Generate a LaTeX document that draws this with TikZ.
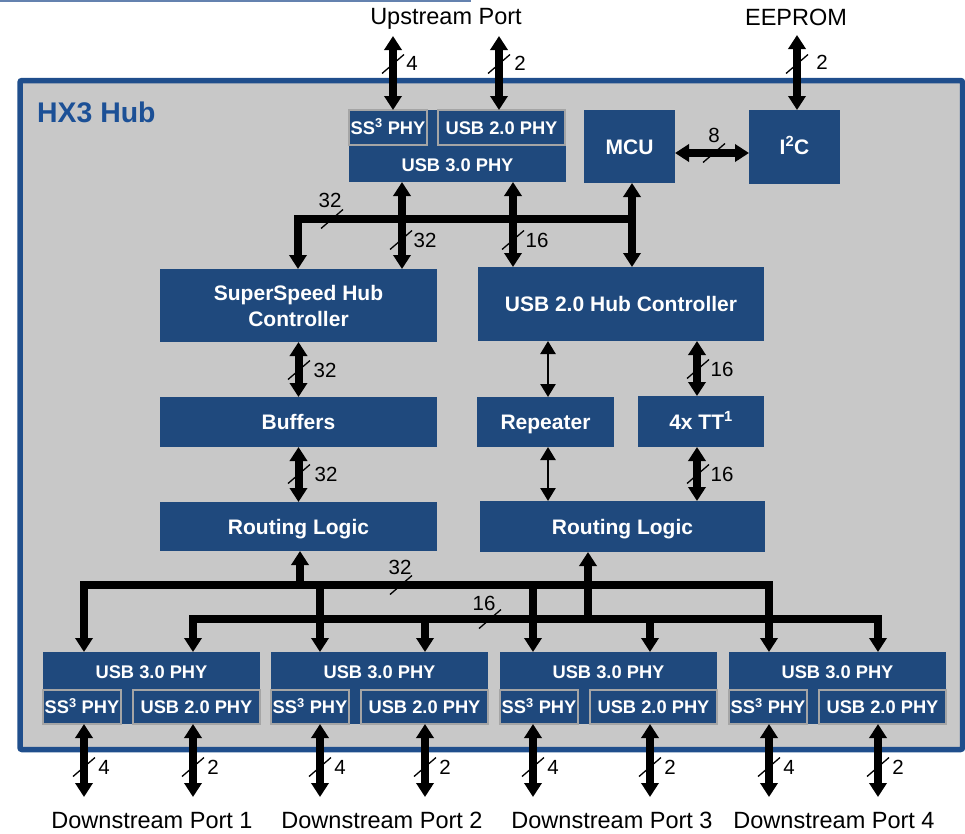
\documentclass[tikz,border=0pt]{standalone}
\usepackage{fontspec}
\setmainfont{Liberation Sans}
\usetikzlibrary{arrows.meta,calc}
\definecolor{boxblue}{HTML}{1F497D}
\definecolor{hubblue}{RGB}{31,78,140}
\definecolor{hubtext}{RGB}{28,80,150}
\definecolor{bggrey}{RGB}{200,200,200}
\definecolor{subgrey}{RGB}{165,165,165}
\definecolor{topline}{RGB}{100,130,175}
\newcommand\mkbox[7][]{\node[blk,#1,minimum width={(#5)-(#3)},minimum height={(#6)-(#4)}] (#2) at ({((#3)+(#5))/2},{((#4)+(#6))/2}) {#7};}
\newcommand\slsh[2]{\draw[slashmark] ($(#1,#2)+(-11,9.5)$) -- ++(22,-19);}
\begin{document}
\begin{tikzpicture}[x=1pt,y=-1pt,
  blk/.style={fill=boxblue,draw=none,text=white,inner sep=0pt,outer sep=0pt,align=center,
    font=\fontsize{21}{26}\selectfont\bfseries,text height=15pt,text depth=0pt},
  phy/.style={font=\fontsize{18.3}{22}\selectfont\bfseries,text height=13.1pt},
  sub/.style={phy,draw=subgrey,line width=1.4pt},
  plain/.style={inner sep=0pt,outer sep=0pt,text height=16.8pt,text depth=0pt,font=\fontsize{23.5}{28}\selectfont},
  num/.style={inner sep=0pt,outer sep=0pt,text height=14.5pt,text depth=0pt,font=\fontsize{20.5}{24}\selectfont},
  tipk/.tip={Triangle[width=17pt,length=14pt]},
  tipt/.tip={Triangle[width=15pt,length=13pt]},
  bus/.style={line width=8pt,black,line join=miter},
  dbl/.style={bus,tipk-tipk},
  sgl/.style={bus,-tipk},
  thinarr/.style={line width=2.6pt,black,tipt-tipt},
  slashmark/.style={line width=1.3pt,black},
]
\useasboundingbox (0,0) rectangle (965,833);
% top thin line
\draw[topline,line width=1.5pt] (0,0.8) -- (471,0.8);
% outer hub box
\draw[hubblue,line width=5.5pt,fill=bggrey,rounded corners=2pt] (20,80.5) rectangle (962.5,749.5);
\node[anchor=west,inner sep=0pt,text height=20pt,text depth=0pt,text=hubtext,font=\fontsize{28.4}{32}\selectfont\bfseries] (title) at (37,112) {HX3 Hub};

% outside labels
\node[plain] (up) at (446,16) {Upstream Port};
\node[plain] (ee) at (796,17) {EEPROM};

% upstream PHY
\mkbox{usPHY3}{349}{110}{566}{182}{}
\node[blk,phy,fill=none] (usPHY3l) at ($(usPHY3.south)+(0,-17)$) {USB 3.0 PHY};
\mkbox[sub]{usSS}{349}{110}{427}{145}{SS\textsuperscript{3} PHY}
\mkbox[sub]{usU2}{438}{110}{565}{145}{USB 2.0 PHY}
\mkbox{mcu}{584}{110}{675}{183}{MCU}
\mkbox{i2c}{749}{110}{840}{184}{I\textsuperscript{2}C}

% middle blocks
\mkbox[text height=41pt]{ssHub}{160}{269}{437}{342}{SuperSpeed Hub\\Controller}
\mkbox{u2Hub}{478}{267}{764}{341}{USB 2.0 Hub Controller}
\mkbox{buf}{160}{397}{437}{447}{Buffers}
\mkbox{rlL}{160}{502}{437}{551}{Routing Logic}
\mkbox{rep}{477}{397}{614}{447}{Repeater}
\mkbox{tt}{638}{396}{764}{447}{4x TT\textsuperscript{1}}
\mkbox{rlR}{480}{501}{765}{552}{Routing Logic}

% downstream PHYs
\foreach \i/\L in {1/43,2/271,3/500,4/729}{
  \mkbox{ds\i}{\L}{652}{\L+217}{724}{}
  \node[blk,phy,fill=none] (ds\i l) at ($(ds\i.north)+(0,20)$) {USB 3.0 PHY};
  \mkbox[sub]{ss\i}{\L}{690}{\L+78}{724}{SS\textsuperscript{3} PHY}
  \mkbox[sub]{dtwo\i}{\L+90}{690}{\L+217}{724}{USB 2.0 PHY}
}

% coordinates
\coordinate (upA) at (393,36);
\coordinate (upB) at (499,36);
\coordinate (eeA) at (797,35);
\coordinate (m153) at (0,153);
\coordinate (tb1) at (298,219);
\coordinate (tb2) at (632,219);
\coordinate (c402) at (402,0);
\coordinate (c513) at (513,0);
\coordinate (c548) at (548,0);
\coordinate (c697) at (697,0);
\coordinate (b32L) at (84,585);
\coordinate (b32R) at (769,585);
\coordinate (b16L) at (193,619);
\coordinate (b16R) at (878,619);
\coordinate (c300) at (300,0);
\coordinate (c588) at (588,0);
\coordinate (c320) at (320,0);
\coordinate (c533) at (533,0);
\coordinate (c425) at (425,0);
\coordinate (c650) at (650,0);
\coordinate (dS1) at (84,797);
\coordinate (dS2) at (320,797);
\coordinate (dS3) at (533,797);
\coordinate (dS4) at (769,797);
\coordinate (dU1) at (193,797);
\coordinate (dU2) at (425,797);
\coordinate (dU3) at (650,797);
\coordinate (dU4) at (878,797);

% upstream arrows
\draw[dbl] (usSS.north -| upA) -- (upA);
\draw[dbl] (usU2.north -| upB) -- (upB);
\draw[dbl] (i2c.north -| eeA) -- (eeA);
\draw[dbl] (mcu.east |- m153) -- (i2c.west |- m153);
\slsh{393}{64} \node[num] at (412,63) {4};
\slsh{499}{64} \node[num] at (520,63) {2};
\slsh{797}{64} \node[num] at (822,62) {2};
\slsh{714}{153} \node[num] at (714,135) {8};

% top bus
\draw[sgl] (tb2) -- (tb1) -- (ssHub.north -| tb1);
\draw[dbl] (mcu.south -| tb2) -- (u2Hub.north -| tb2);
\draw[dbl] (usPHY3.south -| c402) -- (ssHub.north -| c402);
\draw[dbl] (usPHY3.south -| c513) -- (u2Hub.north -| c513);
\slsh{332}{219} \node[num] at (330,200) {32};
\slsh{401}{240} \node[num] at (425,240) {32};
\slsh{513}{240} \node[num] at (537,240) {16};

% middle arrows
\draw[dbl] (ssHub) -- (buf);
\draw[dbl] (buf) -- (rlL);
\slsh{299}{370} \node[num] at (325,370) {32};
\slsh{299}{474} \node[num] at (326,474) {32};
\draw[thinarr] (u2Hub.south -| c548) -- (rep.north -| c548);
\draw[thinarr] (rep.south -| c548) -- (rlR.north -| c548);
\draw[dbl] (u2Hub.south -| c697) -- (tt.north -| c697);
\draw[dbl] (tt.south -| c697) -- (rlR.north -| c697);
\slsh{698}{369} \node[num] at (722,369) {16};
\slsh{698}{474} \node[num] at (722,474) {16};

% bottom buses
\draw[bus,tipk-tipk] (ds1.north -| b32L) -- (b32L) -- (b32R) -- (ds4.north -| b32R);
\draw[sgl] (b32L -| c320) -- (ds2.north -| c320);
\draw[sgl] (b32L -| c533) -- (ds3.north -| c533);
\draw[sgl] (b32L -| c300) -- (rlL.south -| c300);
\draw[bus,tipk-tipk] (ds1.north -| b16L) -- (b16L) -- (b16R) -- (ds4.north -| b16R);
\draw[sgl] (b16L -| c425) -- (ds2.north -| c425);
\draw[sgl] (b16L -| c650) -- (ds3.north -| c650);
\draw[sgl] (b16L -| c588) -- (rlR.south -| c588);
\slsh{401}{585} \node[num] at (400,567) {32};
\slsh{490}{619} \node[num] at (484,603) {16};

% downstream arrows and labels
\foreach \i in {1,2,3,4}{
  \draw[dbl] (ss\i.south -| dS\i) -- (dS\i);
  \draw[dbl] (dtwo\i.south -| dU\i) -- (dU\i);
}
\foreach \x in {84,320,533,769}{\slsh{\x}{767} \node[num] at (\x+20,767) {4};}
\foreach \x in {193,425,650,878}{\slsh{\x}{767} \node[num] at (\x+20,767) {2};}
\node[plain] (p1) at (152,820) {Downstream Port 1};
\node[plain] (p2) at (382,820) {Downstream Port 2};
\node[plain] (p3) at (612,820) {Downstream Port 3};
\node[plain] (p4) at (834,820) {Downstream Port 4};
\end{tikzpicture}
\end{document}
